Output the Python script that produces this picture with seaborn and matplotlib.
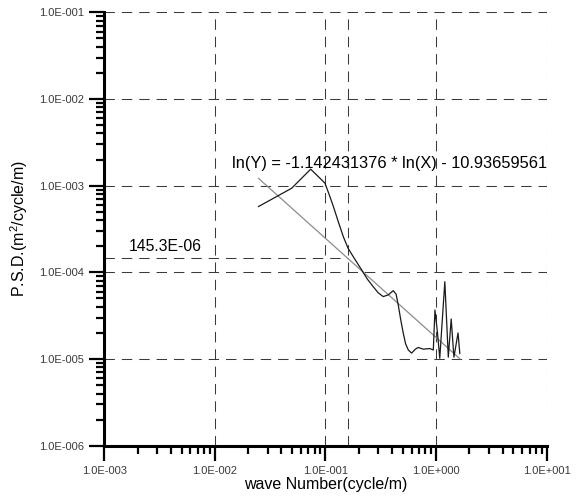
import numpy as np
import matplotlib
matplotlib.use("Agg")
import matplotlib.pyplot as plt
import matplotlib.ticker as mticker
import seaborn as sns
import pandas as pd

# PSD curve
psd_x = [0.0247, 0.0494, 0.0735, 0.0989, 0.108, 0.118, 0.130, 0.145, 0.160, 0.178, 0.212, 0.240, 0.270,
         0.300, 0.333, 0.370, 0.410, 0.435, 0.455, 0.480, 0.505, 0.530, 0.561, 0.601, 0.650, 0.690,
         0.766, 0.881, 0.944, 0.977, 1.03, 1.08, 1.20, 1.29, 1.37, 1.45, 1.58, 1.64]
psd_y = [5.73e-4, 9.33e-4, 1.55e-3, 1.07e-3, 7.9e-4, 5.73e-4, 3.9e-4, 2.58e-4, 1.9e-4, 1.52e-4, 1.07e-4, 8.3e-5, 6.84e-5,
         5.8e-5, 5.25e-5, 5.5e-5, 6.15e-5, 5.6e-5, 4.2e-5, 2.8e-5, 1.99e-5, 1.5e-5, 1.27e-5, 1.17e-5, 1.3e-5, 1.36e-5,
         1.30e-5, 1.32e-5, 1.27e-5, 3.68e-5, 2.0e-5, 1.02e-5, 7.8e-5, 1.05e-5, 2.9e-5, 1.05e-5, 2.0e-5, 1.15e-5]

# regression line end points
fit_x = [0.0247, 1.65]
fit_y = [1.22e-3, 1.0e-5]
fit_text = "ln(Y) = -1.142431376 * ln(X) - 10.93659561"

# marker at 145.3E-06
mark_x = 0.159
mark_y = 145.3e-6
mark_text = "145.3E-06"

x_lim = (1e-3, 1e1)
y_lim = (1e-6, 1e-1)

sns.set_style("ticks")
plt.rcParams['font.family'] = ['Liberation Sans', 'DejaVu Sans']
plt.rcParams['mathtext.default'] = 'regular'
plt.rcParams['lines.scale_dashes'] = False
plt.rcParams['text.color'] = 'black'
plt.rcParams['axes.labelcolor'] = 'black'

fig = plt.figure(figsize=(5.81, 5.01), dpi=100)
ax = fig.add_axes([0.1795, 0.1104, 0.7614, 0.865])

dash = (0, (7.5, 5))
grid_col = "#3a3a3a"

# grid at the decades
for gx in [1e-2, 1e-1, 1e0, 1e1]:
    ax.axvline(gx, color=grid_col, lw=0.75, ls=dash, zorder=1)
for gy in [1e-5, 1e-4, 1e-3, 1e-2, 1e-1]:
    ax.axhline(gy, color=grid_col, lw=0.75, ls=dash, zorder=1)

# marker lines
ax.plot([x_lim[0], mark_x], [mark_y, mark_y], color=grid_col, lw=0.75, ls=dash, zorder=1)
ax.axvline(mark_x, color=grid_col, lw=0.75, ls=dash, zorder=1)

df = pd.DataFrame({"x": psd_x, "y": psd_y})
sns.lineplot(data=df, x="x", y="y", sort=False, estimator=None, color="#1a1a1a", lw=0.9, ax=ax, zorder=3)
sns.lineplot(x=fit_x, y=fit_y, color="#8c8c8c", lw=0.9, ax=ax, zorder=2)

ax.set_xscale("log")
ax.set_yscale("log")
ax.set_xlim(*x_lim)
ax.set_ylim(*y_lim)

fmt = mticker.FuncFormatter(lambda v, p: ("%.1E" % v).replace("E-0", "E-00").replace("E+0", "E+00"))
ax.xaxis.set_major_locator(mticker.LogLocator(base=10, numticks=10))
ax.yaxis.set_major_locator(mticker.LogLocator(base=10, numticks=10))
ax.xaxis.set_minor_locator(mticker.LogLocator(base=10, subs=np.arange(2, 10), numticks=10))
ax.yaxis.set_minor_locator(mticker.LogLocator(base=10, subs=np.arange(2, 10), numticks=10))
ax.xaxis.set_major_formatter(fmt)
ax.yaxis.set_major_formatter(fmt)
ax.xaxis.set_minor_formatter(mticker.NullFormatter())
ax.yaxis.set_minor_formatter(mticker.NullFormatter())

sns.despine(ax=ax)
for s in ["left", "bottom"]:
    ax.spines[s].set_linewidth(2.2)
    ax.spines[s].set_color("black")
    ax.spines[s].set_zorder(4)

ax.tick_params(which="major", direction="out", length=10.8, width=1.6, colors="black",
               labelcolor="#3a3a3a", labelsize=8)
ax.tick_params(which="minor", direction="out", length=5.8, width=1.6, colors="black")
ax.tick_params(axis="y", which="major", pad=4)
ax.tick_params(axis="x", which="major", pad=3.5)

ax.set_xlabel("wave Number(cycle/m)", fontsize=11.5, labelpad=1)
ax.set_ylabel("P.S.D.(m$^2$/cycle/m)", fontsize=11.5, labelpad=6)

ax.text(0.0143, 1.8e-3, fit_text, fontsize=11.8, va="center", ha="left", zorder=5)
ax.text(1.68e-3, 1.75e-4, mark_text, fontsize=11.3, va="baseline", ha="left", zorder=5)

fig.savefig("out.png", dpi=100)
